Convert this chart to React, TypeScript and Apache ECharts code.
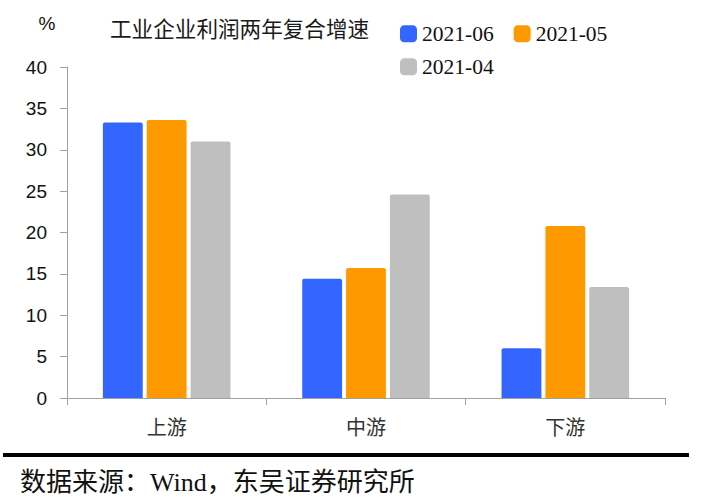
import React, { useEffect, useRef } from "react";
import * as echarts from "echarts";

const categories = ["上游", "中游", "下游"];
const seriesNames = ["2021-06", "2021-05", "2021-04"];
const values0606 = [33.3, 14.4, 6.0];
const values0505 = [33.6, 15.7, 20.8];
const values0404 = [31.0, 24.6, 13.4];
const seriesColors = ["#3366FF", "#FF9900", "#BFBFBF"];
const titleText = "工业企业利润两年复合增速";
const unitText = "%";
const sourceText = "数据来源：Wind，东吴证券研究所";

const seriesValues = [values0606, values0505, values0404];

export default function App() {
  const ref = useRef<HTMLDivElement>(null);
  useEffect(() => {
    if (!ref.current) return;
    const chart = echarts.init(ref.current, undefined, { renderer: "svg" });
    const serif = "'Liberation Serif', 'Times New Roman', 'Noto Sans CJK SC', serif";
    const sans = "'Liberation Sans', Arial, sans-serif";
    const cjk = "'Noto Sans CJK SC', sans-serif";
    const legendText = { fontFamily: serif, fontSize: 21.5, color: "#111" };
    chart.setOption({
      animation: false,
      backgroundColor: "#ffffff",
      grid: { left: 67, right: 39, top: 67, bottom: 102, containLabel: false },
      legend: [
        {
          data: [seriesNames[0], seriesNames[1]],
          left: 400,
          top: 23,
          orient: "horizontal",
          itemWidth: 17,
          itemHeight: 17,
          itemGap: 20,
          icon: "roundRect",
          padding: 0,
          textStyle: legendText,
        },
        {
          data: [seriesNames[2]],
          left: 400,
          top: 56,
          orient: "horizontal",
          itemWidth: 17,
          itemHeight: 17,
          icon: "roundRect",
          padding: 0,
          textStyle: legendText,
        },
      ],
      xAxis: {
        type: "category",
        data: categories,
        axisLine: { show: true, lineStyle: { color: "#A0A0A0", width: 1 } },
        axisTick: { show: true, length: 7, lineStyle: { color: "#A0A0A0" } },
        axisLabel: { margin: 18, fontSize: 20, fontFamily: cjk, color: "#333" },
        splitLine: { show: false },
      },
      yAxis: {
        type: "value",
        min: 0,
        max: 40,
        interval: 5,
        axisLine: { show: true, lineStyle: { color: "#A0A0A0", width: 1 } },
        axisTick: { show: true, length: 7, lineStyle: { color: "#A0A0A0" } },
        axisLabel: { margin: 20, fontSize: 19, fontFamily: sans, color: "#111" },
        splitLine: { show: false },
      },
      series: seriesNames.map((name, i) => ({
        name,
        type: "bar",
        data: seriesValues[i],
        barGap: "10%",
        barCategoryGap: "36%",
        itemStyle: { color: seriesColors[i], borderRadius: [2, 2, 0, 0] },
      })),
      graphic: [
        {
          type: "text",
          left: 110,
          top: 17,
          style: { text: titleText, font: `21.6px ${cjk}`, fill: "#1a1a1a" },
        },
        {
          type: "text",
          x: 47,
          y: 23,
          style: {
            text: unitText,
            font: `19px ${sans}`,
            fill: "#111",
            align: "center",
            verticalAlign: "middle",
          },
        },
        {
          type: "line",
          shape: { x1: 3, y1: 455, x2: 689, y2: 455 },
          style: { stroke: "#000", lineWidth: 4 },
        },
        {
          type: "text",
          x: 20,
          y: 482,
          style: {
            text: sourceText,
            font: `26px ${serif}`,
            fill: "#111",
            verticalAlign: "middle",
          },
        },
      ],
    });
    return () => chart.dispose();
  }, []);
  return <div ref={ref} style={{ width: 704, height: 500, position: "absolute", left: 0, top: 0 }} />;
}
